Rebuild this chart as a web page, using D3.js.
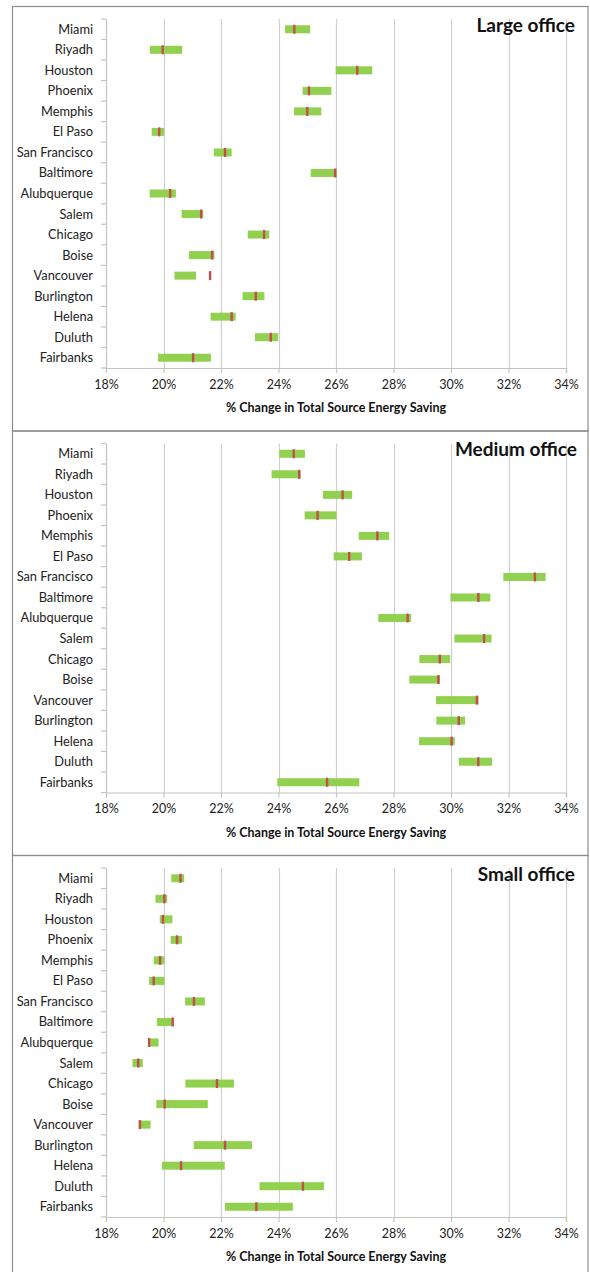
<!DOCTYPE html>
<html>
<head>
<meta charset="utf-8">
<script src="https://cdn.jsdelivr.net/npm/d3@7"></script>
<style>
  html, body { margin: 0; padding: 0; background: #fff; }
  svg { display: block; font-family: "Lato", "Open Sans", sans-serif; }
</style>
</head>
<body>
<svg id="chart" width="590" height="1272"></svg>
<script>
// Cities, top to bottom
const cities = ["Miami", "Riyadh", "Houston", "Phoenix", "Memphis", "El Paso",
  "San Francisco", "Baltimore", "Alubquerque", "Salem", "Chicago", "Boise",
  "Vancouver", "Burlington", "Helena", "Duluth", "Fairbanks"];

const xTicks = [18, 20, 22, 24, 26, 28, 30, 32, 34];

// Large office: range low / high and reference value (% saving)
const largeLow  = [24.23, 19.53, 25.99, 24.84, 24.54, 19.59, 21.75, 25.12, 19.52, 20.63, 22.93, 20.89, 20.38, 22.75, 21.64, 23.18, 19.81];
const largeHigh = [25.10, 20.65, 27.26, 25.84, 25.49, 20.02, 22.37, 26.03, 20.43, 21.38, 23.68, 21.77, 21.13, 23.51, 22.51, 23.99, 21.65];
const largeMark = [24.55, 19.97, 26.74, 25.06, 25.00, 19.85, 22.14, 25.97, 20.23, 21.31, 23.50, 21.69, 21.62, 23.21, 22.37, 23.73, 21.03];

// Medium office
const mediumLow  = [24.03, 23.76, 25.55, 24.91, 26.79, 25.92, 31.82, 29.98, 27.47, 30.12, 28.90, 28.55, 29.48, 29.49, 28.89, 30.27, 23.96];
const mediumHigh = [24.92, 24.77, 26.56, 26.02, 27.85, 26.90, 33.29, 31.37, 28.61, 31.41, 29.97, 29.62, 30.96, 30.49, 30.13, 31.43, 26.81];
const mediumMark = [24.53, 24.72, 26.23, 25.36, 27.44, 26.46, 32.92, 30.95, 28.49, 31.15, 29.61, 29.56, 30.90, 30.27, 30.02, 30.95, 25.69];

// Small office
const smallLow  = [20.27, 19.72, 19.87, 20.25, 19.66, 19.50, 20.75, 19.77, 19.47, 18.92, 20.76, 19.75, 19.14, 21.05, 19.95, 23.34, 22.14];
const smallHigh = [20.72, 20.13, 20.31, 20.64, 20.03, 20.03, 21.44, 20.35, 19.83, 19.28, 22.45, 21.54, 19.55, 23.08, 22.13, 25.58, 24.50];
const smallMark = [20.59, 20.03, 19.98, 20.47, 19.88, 19.66, 21.06, 20.32, 19.50, 19.12, 21.86, 20.04, 19.18, 22.14, 20.61, 24.85, 23.23];

const panels = [
  { title: "Large office",  low: largeLow,  high: largeHigh,  mark: largeMark },
  { title: "Medium office", low: mediumLow, high: mediumHigh, mark: mediumMark },
  { title: "Small office",  low: smallLow,  high: smallHigh,  mark: smallMark }
];

const svg = d3.select("#chart");
const panelH = 424.5;
const frame = { left: 12.5, right: 588, top: 6 };
const plot = { left: 106, right: 566, top: 13, bottom: 362 };

const x = d3.scaleLinear().domain([18, 34]).range([plot.left, plot.right]);
const y = d3.scaleBand().domain(cities).range([plot.top, plot.bottom]);

const green = "#92d050";
const red = "#c0504d";
const gridColor = "#cfcfcf";
const axisColor = "#c4c4c4";

panels.forEach((p, k) => {
  const g = svg.append("g").attr("transform", `translate(0,${frame.top + k * panelH})`);

  // panel frame
  const bottomEdge = k === 2 ? 1272 - frame.top - k * panelH + 2 : panelH;
  g.append("rect")
    .attr("x", frame.left).attr("y", 0.5)
    .attr("width", frame.right - frame.left)
    .attr("height", bottomEdge)
    .attr("fill", "none")
    .attr("stroke", "#8c8c8c")
    .attr("stroke-width", 1.2);

  // vertical gridlines
  g.append("g").selectAll("line")
    .data(xTicks.slice(1))
    .join("line")
    .attr("x1", d => Math.round(x(d)) + 0.5).attr("x2", d => Math.round(x(d)) + 0.5)
    .attr("y1", plot.top).attr("y2", plot.bottom)
    .attr("stroke", gridColor).attr("stroke-width", 1.2);

  // x axis
  const xAxis = g.append("g")
    .attr("transform", `translate(0,${plot.bottom})`)
    .call(d3.axisBottom(x).tickValues(xTicks).tickFormat(d => d + "%").tickSize(5).tickPadding(7));
  xAxis.select(".domain").attr("stroke", axisColor).attr("stroke-width", 1.2);
  xAxis.selectAll(".tick line").attr("stroke", axisColor).attr("stroke-width", 1.2);
  xAxis.selectAll(".tick text")
    .attr("fill", "#222").attr("font-size", 12.5)
    .attr("font-family", "Lato, 'Open Sans', sans-serif");

  // y axis with category separator ticks
  const yAxis = g.append("g").attr("transform", `translate(${plot.left},0)`);
  yAxis.append("line")
    .attr("x1", 0.5).attr("x2", 0.5)
    .attr("y1", plot.top).attr("y2", plot.bottom)
    .attr("stroke", axisColor).attr("stroke-width", 1.2);
  const bounds = cities.map(c => y(c)).concat([plot.bottom]);
  yAxis.selectAll("line.sep")
    .data(bounds)
    .join("line")
    .attr("class", "sep")
    .attr("x1", -5).attr("x2", 0)
    .attr("y1", d => d).attr("y2", d => d)
    .attr("stroke", axisColor).attr("stroke-width", 1.2);
  yAxis.selectAll("text")
    .data(cities)
    .join("text")
    .attr("x", -13)
    .attr("y", d => y(d) + y.bandwidth() / 2)
    .attr("dy", "0.35em")
    .attr("text-anchor", "end")
    .attr("font-size", 12.8)
    .attr("fill", "#222")
    .text(d => d);

  // range bars
  const barH = 8;
  g.append("g").selectAll("rect")
    .data(cities)
    .join("rect")
    .attr("x", (d, i) => x(p.low[i]))
    .attr("width", (d, i) => x(p.high[i]) - x(p.low[i]))
    .attr("y", d => y(d) + y.bandwidth() / 2 - barH / 2)
    .attr("height", barH)
    .attr("fill", green);

  // reference markers
  g.append("g").selectAll("rect")
    .data(cities)
    .join("rect")
    .attr("x", (d, i) => x(p.mark[i]) - 1.2)
    .attr("width", 2.4)
    .attr("y", d => y(d) + y.bandwidth() / 2 - barH / 2 - 0.5)
    .attr("height", barH + 1)
    .attr("fill", red);

  // panel title
  g.append("text")
    .attr("x", 575 + (k === 1 ? 2 : 0))
    .attr("y", 19)
    .attr("dy", "0.35em")
    .attr("text-anchor", "end")
    .attr("font-size", 19)
    .attr("font-weight", "bold")
    .attr("fill", "#111")
    .text(p.title);

  // axis title
  g.append("text")
    .attr("x", (plot.left + plot.right) / 2)
    .attr("y", plot.bottom + 40)
    .attr("dy", "0.35em")
    .attr("text-anchor", "middle")
    .attr("font-size", 12.5)
    .attr("font-weight", "bold")
    .attr("fill", "#111")
    .text("% Change in Total Source Energy Saving");
});
</script>
</body>
</html>
